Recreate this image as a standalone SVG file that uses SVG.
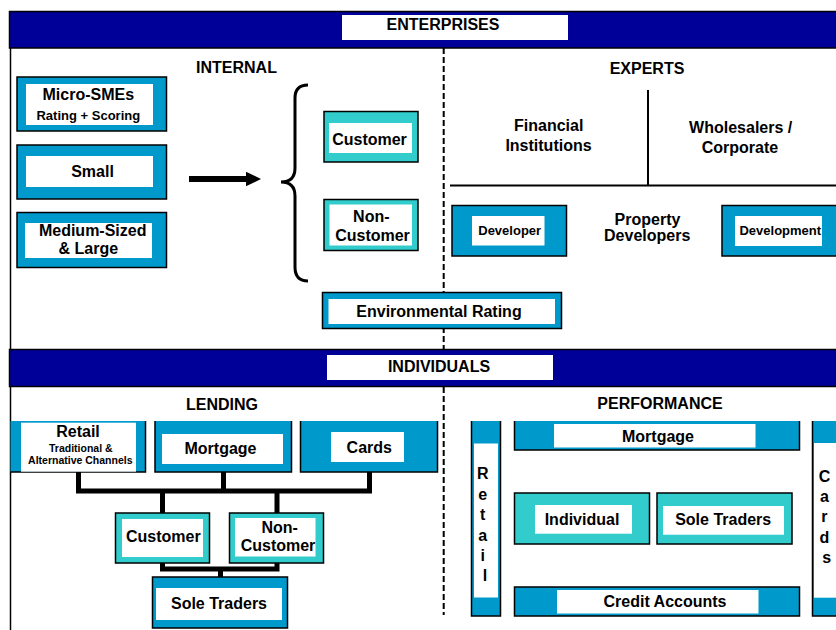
<svg xmlns="http://www.w3.org/2000/svg" width="836" height="630" viewBox="0 0 836 630">
<style>
.band{fill:#000099;stroke:#000;stroke-width:1.5}
.blue{fill:#0099CC;stroke:#000;stroke-width:1.5}
.bluef{fill:#0099CC}
.teal{fill:#33CCCC;stroke:#000;stroke-width:1.5}
.edge{fill:none;stroke:#000;stroke-width:1.5}
.inner{fill:#fff}
.t{font-family:"Liberation Sans",Arial,sans-serif;font-weight:bold;font-size:16px;text-anchor:middle;fill:#000}
.s13{font-size:13px}
.s10{font-size:10.5px}
.conn{fill:none;stroke:#000;stroke-width:5}
.thin{fill:none;stroke:#000;stroke-width:2}
.dash{fill:none;stroke:#000;stroke-width:2;stroke-dasharray:6 3}
</style>
<rect width="836" height="630" fill="#fff"/>

<g id="frame">
<line x1="10.5" y1="48" x2="10.5" y2="349" class="edge"/>
<line x1="10.5" y1="387" x2="10.5" y2="630" class="edge"/>
<line x1="443.7" y1="48" x2="443.7" y2="349" class="dash"/>
<line x1="443.7" y1="387" x2="443.7" y2="615" class="dash"/>
</g>

<g id="band-enterprises">
<rect x="9.5" y="11.5" width="830" height="36.5" class="band"/>
<rect x="342" y="15" width="226" height="25" class="inner"/>
<text x="443" y="30" class="t">ENTERPRISES</text>
</g>

<g id="label-internal"><text x="236.5" y="73.3" class="t">INTERNAL</text></g>
<g id="label-experts"><text x="647" y="74" class="t">EXPERTS</text></g>

<g id="micro-smes">
<rect x="17" y="77" width="149.5" height="54" class="blue"/>
<rect x="26" y="84" width="127" height="41" class="inner"/>
<text x="88.3" y="100" class="t">Micro-SMEs</text>
<text x="88.3" y="120" class="t s13">Rating + Scoring</text>
</g>
<g id="small">
<rect x="17" y="145" width="149.5" height="54" class="blue"/>
<rect x="26" y="156" width="127" height="31" class="inner"/>
<text x="92.5" y="176.7" class="t">Small</text>
</g>
<g id="medium-large">
<rect x="17" y="212.5" width="149.5" height="55" class="blue"/>
<rect x="25" y="223" width="127" height="35" class="inner"/>
<text x="92.7" y="236" class="t">Medium-Sized</text>
<text x="88.3" y="254" class="t">&amp; Large</text>
</g>

<g id="ent-customer">
<rect x="324" y="111.5" width="94" height="50.5" class="teal"/>
<rect x="329" y="123" width="83" height="30" class="inner"/>
<text x="369.5" y="145.3" class="t">Customer</text>
</g>
<g id="ent-non-customer">
<rect x="324" y="199.5" width="94" height="51" class="teal"/>
<rect x="329.5" y="204.5" width="82.5" height="41" class="inner"/>
<text x="371.3" y="221.7" class="t">Non-</text>
<text x="372.5" y="240.7" class="t">Customer</text>
</g>
<g id="environmental-rating">
<rect x="322.5" y="292.5" width="239" height="36" class="blue"/>
<rect x="328.5" y="299" width="226.5" height="25" class="inner"/>
<text x="439" y="316.7" class="t">Environmental Rating</text>
</g>

<g id="financial-institutions">
<text x="548.7" y="131" class="t">Financial</text>
<text x="548.5" y="151" class="t">Institutions</text>
</g>
<g id="wholesalers-corporate">
<text x="740.7" y="133.3" class="t">Wholesalers /</text>
<text x="740" y="152.7" class="t">Corporate</text>
</g>
<g id="property-developers">
<text x="647.5" y="225.3" class="t">Property</text>
<text x="647.2" y="240.7" class="t">Developers</text>
</g>
<g id="developer">
<rect x="452" y="205.5" width="114.5" height="50.5" class="blue"/>
<rect x="472" y="216" width="72.5" height="29.5" class="inner"/>
<text x="509.7" y="234.7" class="t s13">Developer</text>
</g>
<g id="development">
<rect x="722" y="205.5" width="120" height="50.5" class="blue"/>
<rect x="735" y="216" width="87" height="30" class="inner"/>
<text x="780.3" y="234.7" class="t s13">Development</text>
</g>

<g id="band-individuals">
<rect x="9.5" y="349.5" width="830" height="37" class="band"/>
<rect x="327" y="355" width="226" height="25" class="inner"/>
<text x="439" y="371.7" class="t">INDIVIDUALS</text>
</g>
<g id="label-lending"><text x="222" y="410" class="t">LENDING</text></g>
<g id="label-performance"><text x="660" y="408.7" class="t">PERFORMANCE</text></g>

<g id="lend-retail">
<rect x="10.5" y="421" width="135" height="51" class="bluef"/>
<path d="M145.5 421V472H10.5" class="edge"/>
<rect x="21" y="422.7" width="115" height="49" class="inner"/>
<text x="78" y="436.7" class="t">Retail</text>
<text x="80.8" y="452.3" class="t s10">Traditional &amp;</text>
<text x="80.3" y="464.3" class="t s10">Alternative Channels</text>
</g>
<g id="lend-mortgage">
<rect x="155" y="421" width="136.5" height="51" class="bluef"/>
<path d="M155 421V472H291.5V421" class="edge"/>
<rect x="162" y="434" width="121" height="30" class="inner"/>
<text x="220.5" y="454" class="t">Mortgage</text>
</g>
<g id="lend-cards">
<rect x="300.5" y="421" width="137" height="51" class="bluef"/>
<path d="M300.5 421V472H437.5V421" class="edge"/>
<rect x="331" y="432" width="73" height="30" class="inner"/>
<text x="369.3" y="452.7" class="t">Cards</text>
</g>
<g id="lend-customer">
<rect x="115.5" y="513" width="94" height="50" class="teal"/>
<rect x="122" y="519" width="81" height="38" class="inner"/>
<text x="163.3" y="542.3" class="t">Customer</text>
</g>
<g id="lend-non-customer">
<rect x="229.5" y="513" width="94" height="50" class="teal"/>
<rect x="235" y="518" width="80.5" height="38.5" class="inner"/>
<text x="279.7" y="533.3" class="t">Non-</text>
<text x="278" y="550.7" class="t">Customer</text>
</g>
<g id="lend-sole-traders">
<rect x="152.5" y="577" width="135" height="51" class="blue"/>
<rect x="156" y="588" width="126" height="32" class="inner"/>
<text x="219" y="609" class="t">Sole Traders</text>
</g>

<g id="perf-retail">
<rect x="471.5" y="421" width="29" height="195" class="bluef"/>
<path d="M471.5 421V616H500.5V421" class="edge"/>
<rect x="474" y="443.5" width="24" height="154" class="inner"/>
<text class="t">
<tspan x="485" y="479.3">R</tspan>
<tspan x="485" y="499.8">e</tspan>
<tspan x="485" y="520.3">t</tspan>
<tspan x="485" y="540.5">a</tspan>
<tspan x="485" y="560.8">i</tspan>
<tspan x="485" y="581.3">l</tspan>
</text>
</g>
<g id="perf-mortgage">
<rect x="514.5" y="421" width="285" height="29" class="bluef"/>
<path d="M514.5 421V450H799.5V421" class="edge"/>
<rect x="554" y="424" width="201.5" height="23.5" class="inner"/>
<text x="658" y="442" class="t">Mortgage</text>
</g>
<g id="perf-individual">
<rect x="514.5" y="493" width="135" height="51" class="teal"/>
<rect x="535" y="505" width="97" height="28.7" class="inner"/>
<text x="582" y="525.3" class="t">Individual</text>
</g>
<g id="perf-sole-traders">
<rect x="657" y="493" width="135" height="51" class="teal"/>
<rect x="663" y="506" width="121" height="28.7" class="inner"/>
<text x="723.2" y="525.3" class="t">Sole Traders</text>
</g>
<g id="perf-credit-accounts">
<rect x="514.5" y="587" width="285" height="29" class="blue"/>
<rect x="557" y="590" width="201.5" height="23.5" class="inner"/>
<text x="665" y="607.3" class="t">Credit Accounts</text>
</g>
<g id="perf-cards">
<rect x="812.5" y="421" width="40" height="195" class="bluef"/>
<path d="M812.5 421V616H852" class="edge"/>
<rect x="814" y="443" width="30" height="154.7" class="inner"/>
<text class="t">
<tspan x="826.7" y="481.7">C</tspan>
<tspan x="826.7" y="501.9">a</tspan>
<tspan x="826.7" y="522.1">r</tspan>
<tspan x="826.7" y="542.5">d</tspan>
<tspan x="826.7" y="563.3">s</tspan>
</text>
</g>

<g id="connectors">
<line x1="189" y1="179" x2="248" y2="179" stroke="#000" stroke-width="6"/>
<polygon points="246,171.7 261,179 246,186.3" fill="#000"/>
<path d="M308 85Q295 85 295 98V168Q295 182 281 182Q295 182 295 196V267Q295 281 308 281" fill="none" stroke="#000" stroke-width="3"/>
<line x1="648" y1="90" x2="648" y2="186" class="thin"/>
<line x1="450" y1="185.5" x2="836" y2="185.5" class="thin"/>
<path d="M78.5 472V491H369.5V472M223.5 472V491M162.5 491V513M277 491V513" class="conn"/>
<path d="M162.5 563V569H277V563M220.5 569V577" class="conn"/>
</g>
</svg>
